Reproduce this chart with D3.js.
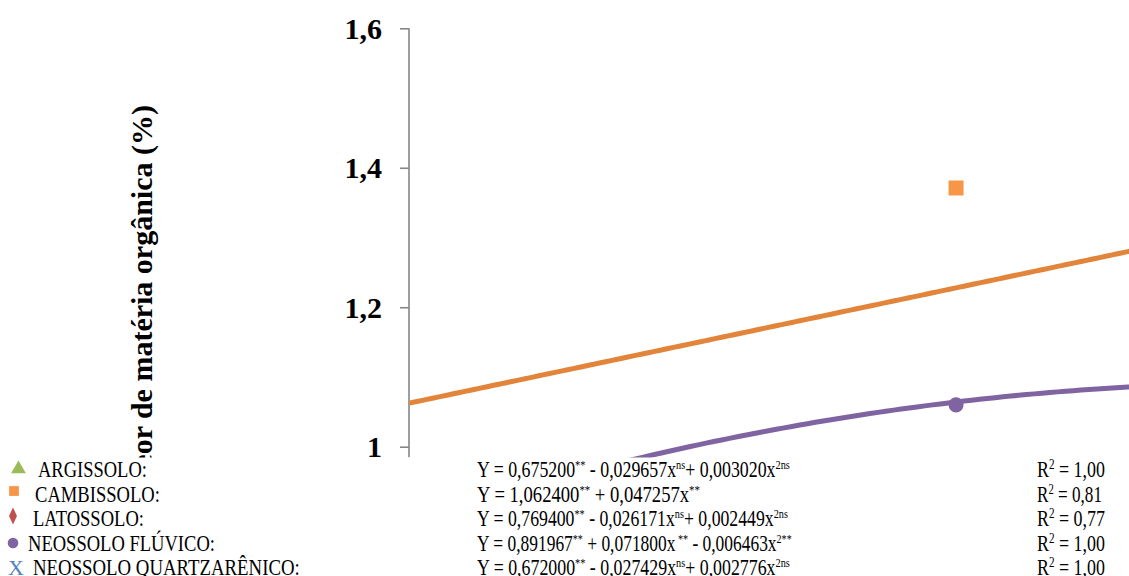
<!DOCTYPE html>
<html>
<head>
<meta charset="utf-8">
<script src="https://d3js.org/d3.v7.min.js"></script>
<style>
  body { margin: 0; background: #fff; }
  svg { display: block; }
</style>
</head>
<body>
<svg width="1129" height="576"></svg>
<script>
    // soils and their fitted regressions  Y = b0 + b1 x + b2 x^2
    var soils = ["ARGISSOLO:", "CAMBISSOLO:", "LATOSSOLO:", "NEOSSOLO FLÚVICO:", "NEOSSOLO QUARTZARÊNICO:"];
    var b0 = [0.675200, 1.062400, 0.769400, 0.891967, 0.672000];
    var b1 = [-0.029657, 0.047257, -0.026171, 0.071800, -0.027429];
    var b2 = [0.003020, 0, 0.002449, -0.006463, 0.002776];
    var r2 = ["1,00", "0,81", "0,77", "1,00", "1,00"];
    var colors = ["#9BBB59", "#F79646", "#C0504D", "#8064A2", "#4F81BD"];
    var lineColors = ["#9BBB59", "#E2843A", "#C0504D", "#8064A2", "#4F81BD"];
    var symbols = ["triangle", "square", "diamond", "circle", "x"];

    // equation pieces: [text, superscript] pairs
    var equations = [
        [["Y = 0,675200", "**"], [" - 0,029657x", "ns"], ["+ 0,003020x", "2ns"]],
        [["Y = 1,062400", "**"], [" + 0,047257x", "**"]],
        [["Y = 0,769400", "**"], [" - 0,026171x", "ns"], ["+ 0,002449x", "2ns"]],
        [["Y = 0,891967", "**"], [" + 0,071800x", " **"], [" - 0,006463x", "2**"]],
        [["Y = 0,672000", "**"], [" - 0,027429x", "ns"], ["+ 0,002776x", "2ns"]]
    ];

    // observed means visible in the picture
    var pointX = [3.5, 3.5];
    var pointSoil = [1, 3];
    var pointY = [1.371, 1.06];

    var curveX = d3.range(0, 5.01, 0.05);
    var yTicks = [1, 1.2, 1.4, 1.6];

    var legendNameW = [109, 125, 111, 187, 267];
    var legendNameX = [38, 35, 33, 28, 33];
    var eqW = [313, 223, 311, 315, 313];

    var svg = d3.select("svg");
    var serif = "'Liberation Serif', 'Times New Roman', serif";

    var x = d3.scaleLinear().domain([0, 5]).range([409, 1190.5]);
    var y = d3.scaleLinear().domain([1, 1.6]).range([446.7, 28.3]);

    svg.append("defs").append("clipPath").attr("id", "plot")
        .append("rect").attr("x", 409).attr("y", 0).attr("width", 800).attr("height", 576);

    // y axis
    var yAxis = svg.append("g")
        .attr("transform", "translate(409,0)")
        .call(d3.axisLeft(y).tickValues(yTicks).tickSizeOuter(0).tickSize(9).tickPadding(18)
            .tickFormat(d => d === 1 ? "1" : d3.format(".1f")(d).replace(".", ",")));
    yAxis.select(".domain").remove();
    yAxis.append("line")
        .attr("y1", y(1.6)).attr("y2", y(0.985))
        .attr("stroke", "#868686").attr("stroke-width", 1.6);
    yAxis.selectAll(".tick line").attr("stroke", "#868686").attr("stroke-width", 1.6);
    yAxis.selectAll(".tick text")
        .attr("fill", "#000")
        .attr("dy", "0.34em")
        .style("font-family", serif)
        .style("font-weight", "bold")
        .style("font-size", "30px");

    svg.append("text")
        .attr("transform", "translate(152,105) rotate(-90)")
        .attr("text-anchor", "end")
        .style("font-family", serif)
        .style("font-weight", "bold")
        .style("font-size", "30px")
        .text("Teor de matéria orgânica (%)");

    // regression curves
    var line = d3.line().x(d => x(d[0])).y(d => y(d[1])).curve(d3.curveBasis);
    var plot = svg.append("g").attr("clip-path", "url(#plot)");
    soils.forEach(function(s, i) {
        plot.append("path")
            .attr("d", line(curveX.map(v => [v, b0[i] + b1[i] * v + b2[i] * v * v])))
            .attr("fill", "none")
            .attr("stroke", lineColors[i])
            .attr("stroke-width", 5);
    });

    // points
    pointX.forEach(function(px, k) {
        var i = pointSoil[k];
        plot.append("path")
            .attr("transform", `translate(${x(px)},${y(pointY[k])})`)
            .attr("d", symbols[i] === "square" ? d3.symbol(d3.symbolSquare, 225)() : d3.symbol(d3.symbolCircle, 180)())
            .attr("fill", colors[i]);
    });

    // legend box over the bottom of the chart
    var legend = svg.append("g");
    legend.append("rect")
        .attr("x", 0).attr("y", 457.5).attr("width", 1129).attr("height", 120)
        .attr("fill", "#fff");

    var rowY = [477, 501.5, 526, 550.5, 575];
    var fontSize = 22.5;

    function squeeze(sel, x0, baseY, w) {
        var bw = sel.node().getComputedTextLength();
        sel.attr("transform", `translate(${x0},${baseY}) scale(${w / bw},1)`);
    }

    soils.forEach(function(s, i) {
        var cy = rowY[i] - 7;
        var m = symbols[i];
        if (m === "triangle") {
            legend.append("path").attr("transform", `translate(18.5,${cy - 1})`)
                .attr("d", d3.symbol(d3.symbolTriangle, 95)()).attr("fill", colors[i]);
        } else if (m === "square") {
            legend.append("path").attr("transform", `translate(14,${cy - 3.5})`)
                .attr("d", d3.symbol(d3.symbolSquare, 95)()).attr("fill", colors[i]);
        } else if (m === "diamond") {
            legend.append("path").attr("transform", `translate(13,${cy - 3}) scale(0.8,1)`)
                .attr("d", d3.symbol(d3.symbolDiamond, 85)()).attr("fill", colors[i]);
        } else if (m === "circle") {
            legend.append("circle").attr("cx", 13).attr("cy", cy - 0.5).attr("r", 5.3)
                .attr("fill", colors[i]);
        } else {
            legend.append("text").attr("x", 8).attr("y", rowY[i])
                .style("font-family", serif).style("font-size", "22px")
                .attr("fill", colors[i]).text("X");
        }

        var name = legend.append("text")
            .style("font-family", serif).style("font-size", fontSize + "px")
            .text(s);
        squeeze(name, legendNameX[i], rowY[i], legendNameW[i]);

        var eq = legend.append("text")
            .style("font-family", serif).style("font-size", fontSize + "px");
        equations[i].forEach(function(p, j) {
            eq.append("tspan").text(p[0]).attr("dy", j === 0 ? 0 : 8);
            eq.append("tspan").text(p[1]).style("font-size", "13px").attr("dy", -8);
        });
        squeeze(eq, 477, rowY[i], eqW[i]);

        var rt = legend.append("text")
            .style("font-family", serif).style("font-size", fontSize + "px");
        rt.append("tspan").text("R");
        rt.append("tspan").text("2").style("font-size", "14px").attr("dy", -8);
        rt.append("tspan").text(" = " + r2[i]).attr("dy", 8);
        squeeze(rt, 1037, rowY[i], i === 1 ? 65 : 68);
    });
</script>
</body>
</html>
